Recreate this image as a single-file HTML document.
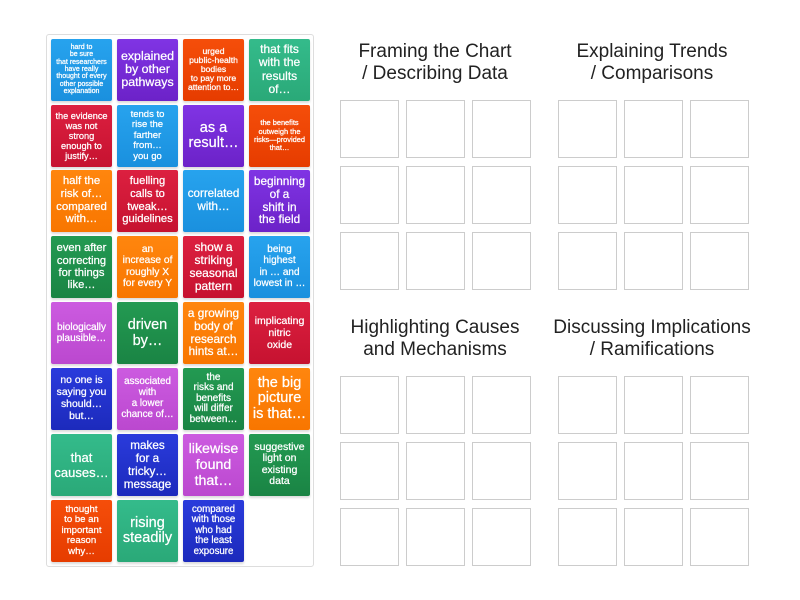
<!DOCTYPE html>
<html><head><meta charset="utf-8"><style>
html,body{margin:0;padding:0;background:#fff;width:800px;height:600px;overflow:hidden}
body{position:relative;font-family:"Liberation Sans",sans-serif}
#p{position:absolute;left:46px;top:34px;width:266px;height:531px;border:1px solid #ddd;border-radius:3px}
.c{position:absolute;width:61px;height:61.5px;border-radius:2px;color:#fff;display:flex;align-items:center;justify-content:center;text-align:center;font-weight:400;-webkit-text-stroke:.25px #fff;box-shadow:0 2px 2px rgba(0,0,0,.14);overflow:hidden;white-space:nowrap}
.b{background:linear-gradient(#27a3ee,#1a90de)}.v{background:linear-gradient(#8034e4,#6c22c8)}
.o{background:linear-gradient(#f54e0a,#e63c00)}.t{background:linear-gradient(#34bb8b,#2aa978)}
.r{background:linear-gradient(#dc2040,#c61230)}.y{background:linear-gradient(#ff860e,#f87600)}
.g{background:linear-gradient(#239a52,#1a8444)}.m{background:linear-gradient(#cc5be0,#bb48cf)}
.n{background:linear-gradient(#2a3bdc,#1c2abc)}
.s{position:absolute;width:56.5px;height:56px;border:1px solid #ccc}
.h{position:absolute;width:220px;text-align:center;font-size:19px;line-height:22px;color:#222}
</style></head><body>
<div id="p"></div>
<div class="c b" style="left:51px;top:39px;font-size:7px;line-height:7.4px">hard to<br>be sure<br>that researchers<br>have really<br>thought of every<br>other possible<br>explanation</div>
<div class="c v" style="left:117px;top:39px;font-size:12.4px;line-height:13px">explained<br>by other<br>pathways</div>
<div class="c o" style="left:183px;top:39px;font-size:8.6px;line-height:9px">urged<br>public-health<br>bodies<br>to pay more<br>attention to…</div>
<div class="c t" style="left:249px;top:39px;font-size:12px;line-height:13.5px">that fits<br>with the<br>results<br>of…</div>
<div class="c r" style="left:51px;top:105px;font-size:9.2px;line-height:10px">the evidence<br>was not<br>strong<br>enough to<br>justify…</div>
<div class="c b" style="left:117px;top:105px;font-size:9.5px;line-height:10.5px">tends to<br>rise the<br>farther<br>from…<br>you go</div>
<div class="c v" style="left:183px;top:105px;font-size:14.5px;line-height:15px">as a<br>result…</div>
<div class="c o" style="left:249px;top:105px;font-size:7.4px;line-height:8.2px">the benefits<br>outweigh the<br>risks—provided<br>that…</div>
<div class="c y" style="left:51px;top:170px;font-size:11.4px;line-height:12.7px">half the<br>risk of…<br>compared<br>with…</div>
<div class="c r" style="left:117px;top:170px;font-size:11.2px;line-height:12.7px">fuelling<br>calls to<br>tweak…<br>guidelines</div>
<div class="c b" style="left:183px;top:170px;font-size:11.6px;line-height:12.7px">correlated<br>with…</div>
<div class="c v" style="left:249px;top:170px;font-size:11.8px;line-height:12.7px">beginning<br>of a<br>shift in<br>the field</div>
<div class="c g" style="left:51px;top:236px;font-size:11.2px;line-height:12.2px">even after<br>correcting<br>for things<br>like…</div>
<div class="c y" style="left:117px;top:236px;font-size:10.2px;line-height:11.3px">an<br>increase of<br>roughly X<br>for every Y</div>
<div class="c r" style="left:183px;top:236px;font-size:12px;line-height:13px">show a<br>striking<br>seasonal<br>pattern</div>
<div class="c b" style="left:249px;top:236px;font-size:10px;line-height:11.3px">being<br>highest<br>in … and<br>lowest in …</div>
<div class="c m" style="left:51px;top:302px;font-size:10px;line-height:11px">biologically<br>plausible…</div>
<div class="c g" style="left:117px;top:302px;font-size:14.5px;line-height:16px">driven<br>by…</div>
<div class="c y" style="left:183px;top:302px;font-size:11.8px;line-height:12.7px">a growing<br>body of<br>research<br>hints at…</div>
<div class="c r" style="left:249px;top:302px;font-size:10.5px;line-height:12px">implicating<br>nitric<br>oxide</div>
<div class="c n" style="left:51px;top:368px;font-size:10.4px;line-height:12px">no one is<br>saying you<br>should…<br>but…</div>
<div class="c m" style="left:117px;top:368px;font-size:9.8px;line-height:10.8px">associated<br>with<br>a lower<br>chance of…</div>
<div class="c g" style="left:183px;top:368px;font-size:10px;line-height:10.5px">the<br>risks and<br>benefits<br>will differ<br>between…</div>
<div class="c y" style="left:249px;top:368px;font-size:14.5px;line-height:15.5px">the big<br>picture<br>is that…</div>
<div class="c t" style="left:51px;top:434px;font-size:13px;line-height:15px">that<br>causes…</div>
<div class="c n" style="left:117px;top:434px;font-size:11.7px;line-height:13px">makes<br>for a<br>tricky…<br>message</div>
<div class="c m" style="left:183px;top:434px;font-size:14.2px;line-height:16px">likewise<br>found<br>that…</div>
<div class="c g" style="left:249px;top:434px;font-size:10.5px;line-height:11.5px">suggestive<br>light on<br>existing<br>data</div>
<div class="c o" style="left:51px;top:500px;font-size:9.6px;line-height:10.5px">thought<br>to be an<br>important<br>reason<br>why…</div>
<div class="c t" style="left:117px;top:500px;font-size:14.5px;line-height:15px">rising<br>steadily</div>
<div class="c n" style="left:183px;top:500px;font-size:9.7px;line-height:10.5px">compared<br>with those<br>who had<br>the least<br>exposure</div>

<div class="h" style="left:325px;top:41px">Framing the Chart<br>/ Describing Data</div>
<div class="h" style="left:542px;top:41px">Explaining Trends<br>/ Comparisons</div>
<div class="h" style="left:325px;top:317px">Highlighting Causes<br>and Mechanisms</div>
<div class="h" style="left:542px;top:317px;width:220px">Discussing Implications<br>/ Ramifications</div>

<div class="s" style="left:340px;top:100px"></div><div class="s" style="left:406px;top:100px"></div><div class="s" style="left:472px;top:100px"></div>
<div class="s" style="left:340px;top:166px"></div><div class="s" style="left:406px;top:166px"></div><div class="s" style="left:472px;top:166px"></div>
<div class="s" style="left:340px;top:232px"></div><div class="s" style="left:406px;top:232px"></div><div class="s" style="left:472px;top:232px"></div>
<div class="s" style="left:558px;top:100px"></div><div class="s" style="left:624px;top:100px"></div><div class="s" style="left:690px;top:100px"></div>
<div class="s" style="left:558px;top:166px"></div><div class="s" style="left:624px;top:166px"></div><div class="s" style="left:690px;top:166px"></div>
<div class="s" style="left:558px;top:232px"></div><div class="s" style="left:624px;top:232px"></div><div class="s" style="left:690px;top:232px"></div>
<div class="s" style="left:340px;top:376px"></div><div class="s" style="left:406px;top:376px"></div><div class="s" style="left:472px;top:376px"></div>
<div class="s" style="left:340px;top:442px"></div><div class="s" style="left:406px;top:442px"></div><div class="s" style="left:472px;top:442px"></div>
<div class="s" style="left:340px;top:508px"></div><div class="s" style="left:406px;top:508px"></div><div class="s" style="left:472px;top:508px"></div>
<div class="s" style="left:558px;top:376px"></div><div class="s" style="left:624px;top:376px"></div><div class="s" style="left:690px;top:376px"></div>
<div class="s" style="left:558px;top:442px"></div><div class="s" style="left:624px;top:442px"></div><div class="s" style="left:690px;top:442px"></div>
<div class="s" style="left:558px;top:508px"></div><div class="s" style="left:624px;top:508px"></div><div class="s" style="left:690px;top:508px"></div>
</body></html>
